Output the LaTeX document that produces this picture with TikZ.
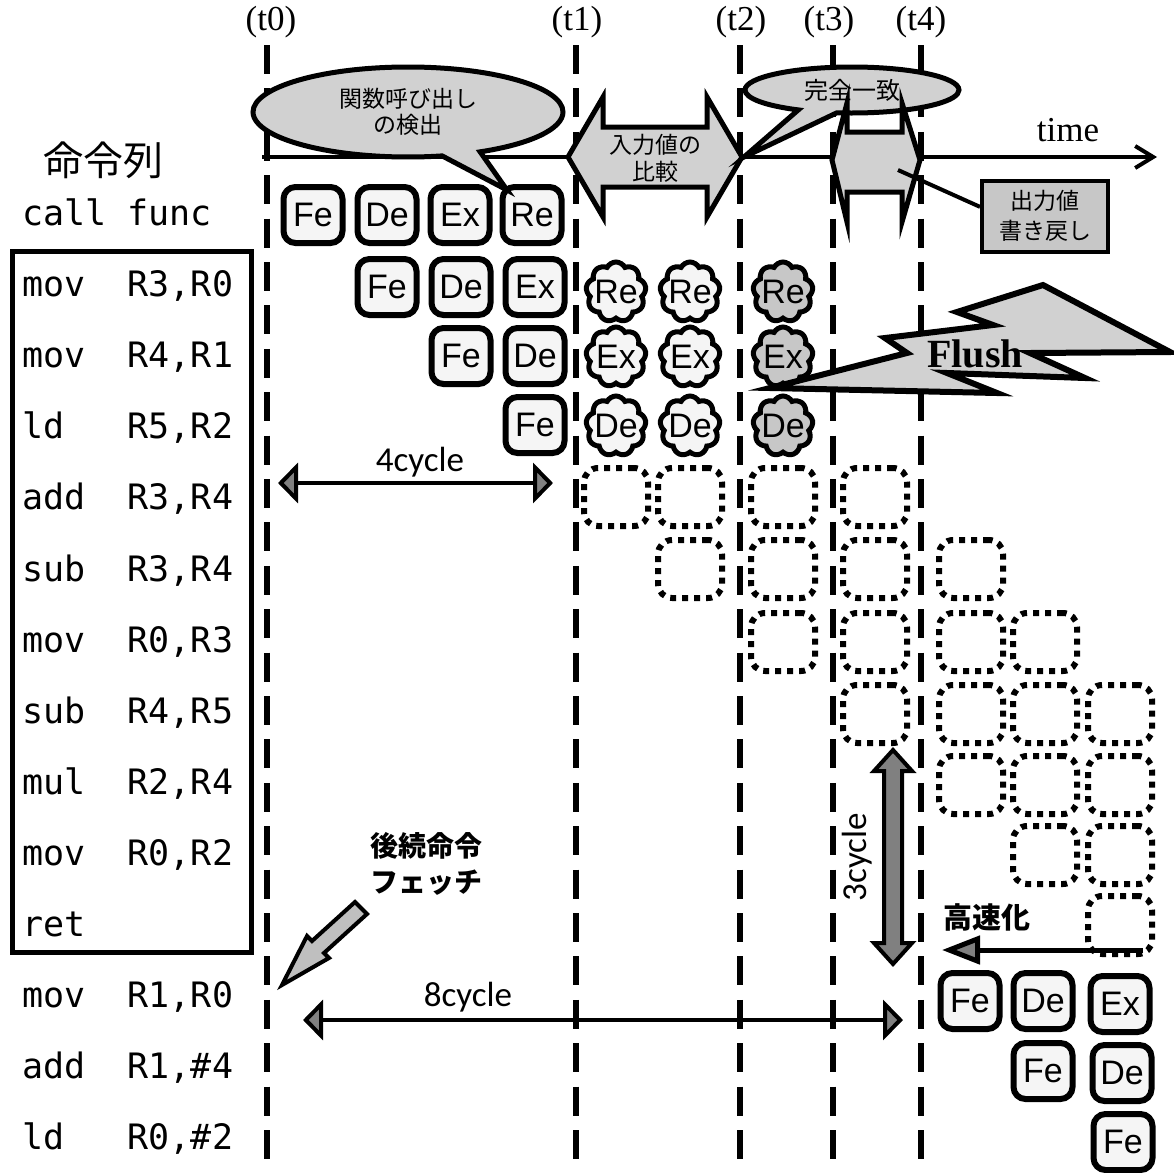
\documentclass[tikz,border=0pt]{standalone}
\usepackage{fontspec}
\setmainfont{Liberation Serif}
\setsansfont{Liberation Sans}
\setmonofont{DejaVu Sans Mono}
\newfontfamily\jpfont{Noto Sans CJK JP}
\newfontfamily\calfont{Carlito}
\usetikzlibrary{arrows.meta,positioning,shapes.symbols,shapes.callouts}
\definecolor{boxfill}{gray}{0.96}
\definecolor{bubblefill}{gray}{0.82}
\definecolor{flushfill}{gray}{0.78}
\definecolor{darkfill}{gray}{0.5}
\definecolor{fetchfill}{gray}{0.75}
\newcommand{\fsz}[2]{\fontsize{#1}{#2}\selectfont}

\begin{document}
\begin{tikzpicture}[
x=0.5pt, y=-0.5pt,
stage/.style={draw, line width=3pt, rounded corners=6pt, fill=boxfill, minimum width=29.5pt, minimum height=28pt, inner sep=0pt, font=\sffamily\fsz{17}{17}},
idle/.style={draw, line width=3pt, dash pattern=on 3pt off 3pt, rounded corners=7pt, minimum width=32pt, minimum height=29pt, inner sep=0pt},
flushed/.style={cloud, cloud puffs=9, cloud puff arc=125, draw, line width=2.5pt, fill=boxfill, minimum width=30pt, minimum height=30pt, inner sep=0pt, label={[font=\sffamily\fsz{17}{17}]center:#1}},
tline/.style={line width=3pt, dash pattern=on 14.5pt off 7.2pt},
tlabel/.style={font=\fsz{17.5}{17.5}},
instr/.style={anchor=base west, inner sep=0pt, font=\ttfamily\fsz{17.5}{17.5}},
bubble/.style={ellipse callout, draw, line width=2.5pt, fill=bubblefill, inner sep=0pt, align=center},
blockarrow/.style={draw, line width=2.5pt, fill=bubblefill, line join=miter},
cyc/.style={line width=2pt, {Triangle[length=10pt,width=20pt,fill=darkfill]}-{Triangle[length=10pt,width=20pt,fill=darkfill]}},
cyclabel/.style={font=\calfont\fsz{17.5}{17.5}}
]
\useasboundingbox (0,0) rectangle (1173,1173);

% time marks
\draw[tline] (267,45) -- (267,1173);
\draw[tline] (576,45) -- (576,1173);
\draw[tline] (740,45) -- (740,1173);
\draw[tline] (833,45) -- (833,1173);
\draw[tline] (921,45) -- (921,1173);
\node[tlabel] (lt0) at (271,22) {(t0)};
\node[tlabel] (lt1) at (577,22) {(t1)};
\node[tlabel] (lt2) at (741,22) {(t2)};
\node[tlabel] (lt3) at (829,22) {(t3)};
\node[tlabel] (lt4) at (921,22) {(t4)};

\coordinate (ax0) at (262,157);
\coordinate (ax1) at (1157,157);
\draw[line width=2pt, -{Straight Barb[length=9pt,width=11pt]}] (ax0) -- (ax1);
\node[tlabel] (tm) at (1068,130) {time};

% instruction list
\node[font=\jpfont\fsz{20}{20}] (prog) at (103,160) {命令列};
\node[instr] (i0) at (22,225) {call~func};
\node[instr] (i1) at (22,296) {mov~~R3,R0};
\node[instr] (i2) at (22,367) {mov~~R4,R1};
\node[instr] (i3) at (22,438) {ld~~~R5,R2};
\node[instr] (i4) at (22,509) {add~~R3,R4};
\node[instr] (i5) at (22,581) {sub~~R3,R4};
\node[instr] (i6) at (22,652) {mov~~R0,R3};
\node[instr] (i7) at (22,723) {sub~~R4,R5};
\node[instr] (i8) at (22,794) {mul~~R2,R4};
\node[instr] (i9) at (22,865) {mov~~R0,R2};
\node[instr] (i10) at (22,936) {ret};
\node[instr] (i11) at (22,1007) {mov~~R1,R0};
\node[instr] (i12) at (22,1078) {add~~R1,\#4};
\node[instr] (i13) at (22,1149) {ld~~~R0,\#2};
\draw[line width=2.5pt] (12,251) rectangle (251,952);

% pipeline of the call
\node[stage] (fe0) at (313,215) {Fe};
\node[stage] (de0) at (387,215) {De};
\node[stage] (ex0) at (460,215) {Ex};
\node[stage] (re0) at (532,215) {Re};
\node[stage] (fe1) at (387,287) {Fe};
\node[stage] (de1) at (461,287) {De};
\node[stage] (ex1) at (535,287) {Ex};
\node[stage] (fe2) at (461,356) {Fe};
\node[stage] (de2) at (535,356) {De};
\node[stage] (fe3) at (535,425) {Fe};

% flushed stages
\node[flushed=Re] (re1a) at (616,292) {};
\node[flushed=Re] (re1b) at (690,292) {};
\node[flushed=Re, fill=flushfill] (re1c) at (783,292) {};
\node[flushed=Ex] (ex2a) at (616,357) {};
\node[flushed=Ex] (ex2b) at (690,357) {};
\node[flushed=Ex, fill=flushfill] (ex2c) at (783,357) {};
\node[flushed=De] (de3a) at (616,426) {};
\node[flushed=De] (de3b) at (690,426) {};
\node[flushed=De, fill=flushfill] (de3c) at (783,426) {};

% skipped stages
\node[idle] (s4a) at (616,497) {};
\node[idle] (s4b) at (690,497) {};
\node[idle] (s4c) at (783,497) {};
\node[idle] (s4d) at (875,497) {};
\node[idle] (s5a) at (690,569) {};
\node[idle] (s5b) at (783,569) {};
\node[idle] (s5c) at (875,569) {};
\node[idle] (s5d) at (971,569) {};
\node[idle] (s6a) at (783,642) {};
\node[idle] (s6b) at (875,642) {};
\node[idle] (s6c) at (971,642) {};
\node[idle] (s6d) at (1045,642) {};
\node[idle] (s7a) at (875,714) {};
\node[idle] (s7b) at (971,714) {};
\node[idle] (s7c) at (1045,714) {};
\node[idle] (s7d) at (1120,714) {};
\node[idle] (s8a) at (971,785) {};
\node[idle] (s8b) at (1045,785) {};
\node[idle] (s8c) at (1120,785) {};
\node[idle] (s9a) at (1045,855) {};
\node[idle] (s9b) at (1120,855) {};
\node[idle] (s10a) at (1120,925) {};

% following instructions
\node[stage] (fe11) at (970,1001) {Fe};
\node[stage] (de11) at (1043,1001) {De};
\node[stage] (ex11) at (1120,1004) {Ex};
\node[stage] (fe12) at (1043,1071) {Fe};
\node[stage] (de12) at (1122,1073) {De};
\node[stage] (fe13) at (1123,1142) {Fe};

% call detection and compare
\node[bubble, minimum width=155pt, minimum height=45pt, callout absolute pointer={(507,190)}, callout pointer arc=15, font=\jpfont\fsz{11.5}{13}] (detect) at (408,112) {関数呼び出し\\の検出};
\draw[blockarrow] (568,157) -- (603,97) -- (603,127) -- (707,127) -- (707,97) -- (742,157) -- (707,217) -- (707,187) -- (603,187) -- (603,217) -- cycle;
\node[font=\jpfont\fsz{11.5}{13.5}, align=center] (cmp) at (655,158) {入力値の\\比較};
\node[bubble, minimum width=107pt, minimum height=23pt, callout absolute pointer={(744,157)}, callout pointer arc=22, font=\jpfont\fsz{12}{12}] (match) at (852,90) {完全一致};
\draw[blockarrow] (832,160) -- (847,103) -- (847,132) -- (902,132) -- (902,103) -- (920,160) -- (902,222) -- (902,192) -- (847,192) -- (847,222) -- cycle;
\node[draw, line width=2pt, fill=flushfill, minimum width=63pt, minimum height=35.5pt, align=center, font=\jpfont\fsz{11.5}{15}] (wb) at (1045,216) {出力値\\書き戻し};
\coordinate (wbpt) at (898,170);
\draw[line width=2pt] (wbpt) -- (wb.172);

% flush
\draw[blockarrow, line width=3pt] (770,388) -- (907,353) -- (885,338) -- (993,325) -- (957,312) -- (1043,285) -- (1170,352) -- (1030,353) -- (1085,378) -- (947,373) -- (997,393) -- cycle;
\node[font=\bfseries\fsz{20}{20}] (fl) at (975,354) {Flush};

% cycle counts
\coordinate (c4l) at (278,483);
\coordinate (c4r) at (553,483);
\draw[cyc] (c4l) -- (c4r);
\node[cyclabel] (c4) at (420,462) {4cycle};
\coordinate (c8l) at (303,1020);
\coordinate (c8r) at (903,1020);
\draw[cyc] (c8l) -- (c8r);
\node[cyclabel] (c8) at (468,997) {8cycle};
\draw[blockarrow, line width=2pt, fill=darkfill] (893,750) -- (874,771) -- (884,771) -- (884,943) -- (874,943) -- (893,964) -- (912,943) -- (902,943) -- (902,771) -- (912,771) -- cycle;
\node[cyclabel, rotate=90] (c3) at (857,857) {3cycle};

% speed-up
\coordinate (sp0) at (1143,950);
\coordinate (sp1) at (942,950);
\draw[line width=2.5pt, -{Triangle[length=19pt,width=14pt,fill=darkfill]}] (sp0) -- (sp1);
\node[font=\jpfont\bfseries\fsz{14.5}{14.5}] (spd) at (987,917) {高速化};

% next fetch
\node[font=\jpfont\bfseries\fsz{14}{18}, align=left, anchor=west] (nf) at (363,864) {後続命令\\フェッチ};
\draw[blockarrow, line width=2pt, fill=fetchfill] (355,902) -- (367,914) -- (324,953) -- (329,958) -- (282,985) -- (307,936) -- (312,941) -- cycle;
\end{tikzpicture}
\end{document}
